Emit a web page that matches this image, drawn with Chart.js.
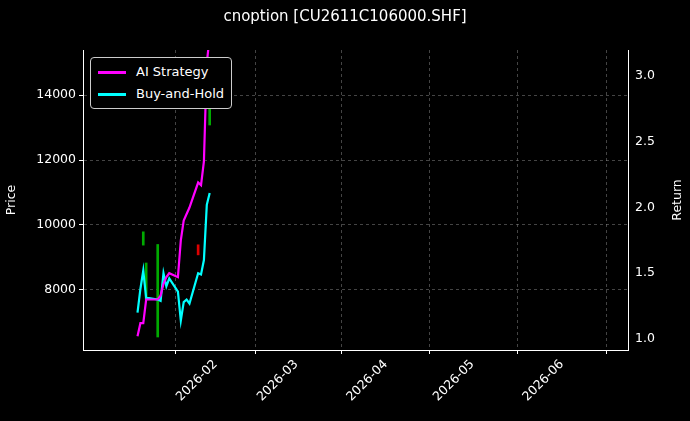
<!DOCTYPE html>
<html><head><meta charset="utf-8">
<script src="https://cdn.jsdelivr.net/npm/chart.js@4"></script>
<style>
body{margin:0;background:#000;font-family:"DejaVu Sans",sans-serif;}
#wrap{position:relative;width:690px;height:421px;}
#legend{position:absolute;left:90px;top:57px;border:1px solid #ccc;border-radius:4px;padding:3px 7px;color:#fff;font-size:13px;line-height:22px;background:#000;}
#legend span{display:inline-block;width:28px;height:3px;margin-right:10px;vertical-align:middle;}
</style></head><body>
<div id="wrap"><canvas id="c" width="690" height="421"></canvas>
<div id="legend"><div><span style="background:#ff00ff"></span>AI Strategy</div><div><span style="background:#00ffff"></span>Buy-and-Hold</div></div>
</div>
<script>
// day index since 2026-01-01
const days = [4,5,6,7,8, 11,12,13,14,15, 18,19,20,21,22, 25,26,27,28,29];
const aiReturn = [1.02,1.12,1.12,1.30,1.30, 1.30,1.33,1.42,1.47,1.50, 1.47,1.75,1.90,1.95,2.00, 2.19,2.17,2.35,3.10,3.30];
const bhReturn = [1.20,1.38,1.52,1.31,1.31, 1.30,1.29,1.50,1.40,1.46, 1.36,1.14,1.28,1.30,1.27, 1.50,1.49,1.60,2.02,2.11];
const candleDays = [6,7,11,25,29];
const candleRange = [[9380,9790],[7690,8830],[6550,9400],[9080,9390],[13080,14150]];
const candleColors = ['#00aa00','#00aa00','#00aa00','#dd0000','#00aa00'];
const monthTicks = [31,59,90,120,151];
const monthLabels = ['2026-02','2026-03','2026-04','2026-05','2026-06'];

const FONT = {size:12.5, family:'DejaVu Sans'};
const grid = {color:'rgba(150,150,150,0.45)', drawTicks:true, tickColor:'#fff', tickLength:4};
const border = {color:'#fff', dash:[3,3]};

// right axis title reads bottom-to-top
const returnTitle = {
  id:'returnTitle',
  afterDraw(chart){
    const a = chart.scales.yR, ctx = chart.ctx;
    ctx.save();
    ctx.translate(678, (a.top + a.bottom) / 2);
    ctx.rotate(-Math.PI / 2);
    ctx.fillStyle = '#fff'; ctx.font = '12.5px "DejaVu Sans"';
    ctx.textAlign = 'center'; ctx.textBaseline = 'middle';
    ctx.fillText('Return', 0, 0);
    ctx.restore();
  }
};

new Chart(document.getElementById('c'), {
  data: {
    datasets: [
      {type:'bar', yAxisID:'yP', data: candleDays.map((d,i)=>({x:d,y:candleRange[i]})),
       backgroundColor:candleColors, barThickness:2, order:3},
      {type:'line', yAxisID:'yR', data: days.map((d,i)=>({x:d,y:aiReturn[i]})),
       borderColor:'#ff00ff', borderWidth:2.2, pointRadius:0, order:1},
      {type:'line', yAxisID:'yR', data: days.map((d,i)=>({x:d,y:bhReturn[i]})),
       borderColor:'#00ffff', borderWidth:2.2, pointRadius:0, order:2}
    ]
  },
  plugins:[returnTitle],
  options: {
    responsive:false, animation:false,
    layout:{padding:0},
    plugins:{
      legend:{display:false}, tooltip:{enabled:false},
      title:{display:true, text:'cnoption [CU2611C106000.SHF]', color:'#fff',
        font:{size:15,family:'DejaVu Sans',weight:'normal'}, padding:{top:8,bottom:24}}
    },
    scales:{
      x:{type:'linear', min:4, max:155,
        afterBuildTicks: s => { s.ticks = monthTicks.map(v=>({value:v})); },
        afterFit: s => { s.height = 71; },
        ticks:{color:'#fff', maxRotation:45, minRotation:45, font:FONT,
          callback:(v)=>monthLabels[monthTicks.indexOf(v)]},
        grid:grid, border:border},
      yP:{position:'left', min:6150, max:15390,
        afterBuildTicks: s => { s.ticks = [8000,10000,12000,14000].map(v=>({value:v})); },
        afterFit: s => { s.width = 83; },
        ticks:{color:'#fff', font:FONT, callback:v=>String(v)},
        title:{display:true,text:'Price',color:'#fff',font:FONT},
        grid:grid, border:border},
      yR:{position:'right', min:0.916, max:3.198,
        afterBuildTicks: s => { s.ticks = [1.0,1.5,2.0,2.5,3.0].map(v=>({value:v})); },
        afterFit: s => { s.width = 62; },
        ticks:{color:'#fff', font:FONT, callback:v=>v.toFixed(1)},
        grid:{display:false, tickColor:'#fff', tickLength:4}, border:{color:'#fff'}}
    }
  }
});
</script>
</body></html>
